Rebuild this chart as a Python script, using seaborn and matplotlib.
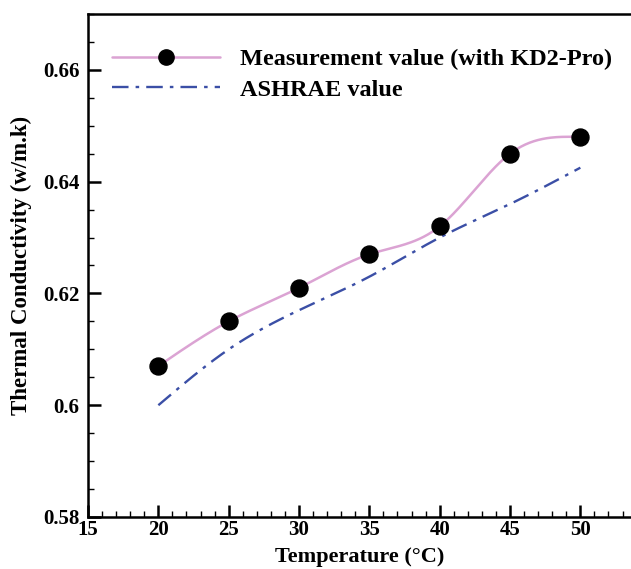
import numpy as np
import pandas as pd
import matplotlib
matplotlib.use('Agg')
import matplotlib.pyplot as plt
from matplotlib.lines import Line2D
from matplotlib.ticker import MultipleLocator, FormatStrFormatter
import seaborn as sns

# data
temperature = [20, 25, 30, 35, 40, 45, 50]
measured = [0.607, 0.615, 0.621, 0.627, 0.632, 0.645, 0.648]
ashrae = [0.600, 0.610, 0.617, 0.623, 0.630, 0.636, 0.6425]

pink = '#dba3d3'
blue = '#3b4fa6'


def smooth(x, y, n=300):
    # natural cubic spline, only used to draw the curve through the points
    x = np.asarray(x, float)
    y = np.asarray(y, float)
    h = np.diff(x)
    k = len(x)
    A = np.zeros((k, k))
    b = np.zeros(k)
    A[0, 0] = A[-1, -1] = 1
    for i in range(1, k - 1):
        A[i, i - 1] = h[i - 1]
        A[i, i] = 2 * (h[i - 1] + h[i])
        A[i, i + 1] = h[i]
        b[i] = 3 * ((y[i + 1] - y[i]) / h[i] - (y[i] - y[i - 1]) / h[i - 1])
    c = np.linalg.solve(A, b)
    xs = np.linspace(x[0], x[-1], n)
    idx = np.clip(np.searchsorted(x, xs) - 1, 0, k - 2)
    dx = xs - x[idx]
    bc = (y[idx + 1] - y[idx]) / h[idx] - h[idx] * (2 * c[idx] + c[idx + 1]) / 3
    d = (c[idx + 1] - c[idx]) / (3 * h[idx])
    ys = y[idx] + bc * dx + c[idx] * dx ** 2 + d * dx ** 3
    return xs, ys


sns.set_theme(style='ticks')
plt.rcParams['font.family'] = ['Liberation Serif', 'DejaVu Serif']
plt.rcParams['font.weight'] = 'bold'
plt.rcParams['text.color'] = 'black'
plt.rcParams['axes.labelcolor'] = 'black'
plt.rcParams['xtick.color'] = 'black'
plt.rcParams['ytick.color'] = 'black'

fig = plt.figure(figsize=(6.31, 5.69), dpi=100)
ax = fig.add_axes([0.1395, 0.0914, 0.8605, 0.884])

xs, ys = smooth(temperature, measured)
curve_df = pd.DataFrame({'T': xs, 'k': ys})
xa, ya = smooth(temperature, ashrae)
ashrae_df = pd.DataFrame({'T': xa, 'k': ya})
pts_df = pd.DataFrame({'T': temperature, 'k': measured})

sns.lineplot(data=curve_df, x='T', y='k', ax=ax, color=pink, lw=1.8, sort=False)
sns.lineplot(data=ashrae_df, x='T', y='k', ax=ax, color=blue, lw=1.7, sort=False)
ax.lines[-1].set_dashes((7, 3, 1.5, 3))
sns.scatterplot(data=pts_df, x='T', y='k', ax=ax, color='black', s=150,
                edgecolor='black', zorder=5)

ax.set_xlim(15, 53.6)
ax.set_ylim(0.58, 0.67)
ax.xaxis.set_major_locator(MultipleLocator(5))
ax.xaxis.set_minor_locator(MultipleLocator(1))
ax.yaxis.set_major_locator(MultipleLocator(0.02))
ax.yaxis.set_minor_locator(MultipleLocator(0.005))
ax.yaxis.set_major_formatter(FormatStrFormatter('%g'))

ax.tick_params(which='major', direction='in', length=9, width=1.8,
               labelsize=15, color='black', labelcolor='black')
ax.tick_params(axis='x', which='major', pad=2)
ax.tick_params(axis='y', which='major', pad=6)
ax.tick_params(which='minor', direction='in', length=4.5, width=1.0,
               color='black')
for lab in ax.get_xticklabels() + ax.get_yticklabels():
    lab.set_fontweight('bold')

for side in ['left', 'bottom', 'top']:
    ax.spines[side].set_linewidth(1.8)
    ax.spines[side].set_color('black')
ax.spines['right'].set_visible(False)

ax.set_xlabel('Temperature (\u00b0C)', fontsize=16, fontweight='bold', labelpad=5)
ax.set_ylabel('Thermal Conductivity (w/m.k)', fontsize=16.5, fontweight='bold',
              labelpad=8)

handles = [
    Line2D([], [], color=pink, lw=1.8, marker='o', markersize=11,
           markerfacecolor='black', markeredgecolor='black'),
    Line2D([], [], color=blue, lw=1.7, dashes=(7, 3, 1.5, 3)),
]
ax.legend(handles, ['Measurement value (with KD2-Pro)', 'ASHRAE value'],
          loc='upper left', bbox_to_anchor=(0.044, 0.932), frameon=False,
          borderaxespad=0, borderpad=0,
          handlelength=4.45, handletextpad=0.82, labelspacing=0.35,
          numpoints=1, prop={'family': 'Liberation Serif', 'weight': 'bold',
                             'size': 17.5})

fig.savefig('out.png', dpi=100)
